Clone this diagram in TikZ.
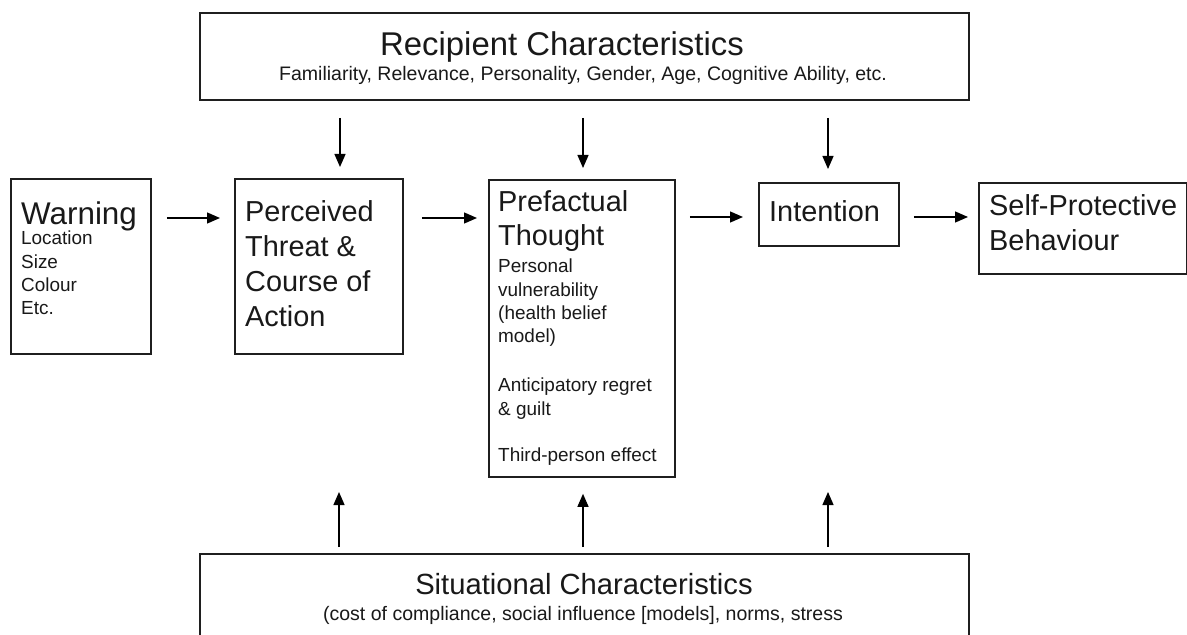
\documentclass[tikz,border=0pt]{standalone}
\usepackage{fontspec}
\setmainfont{Liberation Sans}
\usetikzlibrary{arrows.meta,calc}

\tikzset{
  box/.style={draw=black!88, line width=1.8bp, inner sep=0pt, anchor=north west},
  flow/.style={draw=black, line width=1.3bp, -{Triangle[length=13bp,width=11bp]}},
  txt/.style={inner sep=0pt, anchor=base west, text=black!90},
  ctxt/.style={inner sep=0pt, anchor=base, text=black!90},
  big/.style={font=\fontsize{29}{35}\selectfont},
  bigger/.style={font=\fontsize{31.5}{37}\selectfont},
  small/.style={font=\fontsize{19}{23}\selectfont},
  headA/.style={font=\fontsize{33}{38}\selectfont},
  headB/.style={font=\fontsize{29.3}{35}\selectfont},
  sub/.style={font=\fontsize{19.6}{23}\selectfont},
}

\begin{document}
\begin{tikzpicture}[x=1bp,y=-1bp]
\useasboundingbox (0,0) rectangle (1187,635);
\fill[white] (0,0) rectangle (1187,635);
\clip (0,0) rectangle (1187,635);

% ---- boxes
\node[box, minimum width=769bp, minimum height=87bp]  (recip)  at (199,12)  {};
\node[box, minimum width=140bp, minimum height=175bp] (warn)   at (10,178)  {};
\node[box, minimum width=168bp, minimum height=175bp] (perc)   at (234,178) {};
\node[box, minimum width=186bp, minimum height=297bp] (pref)   at (488,179) {};
\node[box, minimum width=140bp, minimum height=63bp]  (intent) at (758,182) {};
\node[box, minimum width=208bp, minimum height=91bp]  (self)   at (978,182) {};
\node[box, minimum width=769bp, minimum height=120bp] (situ)   at (199,553) {};

% ---- recipient characteristics
\node[ctxt, headA] (recipT) at (562,56) {Recipient Characteristics};
\node[ctxt, sub]   (recipS) at (583,81) {Familiarity, Relevance, Personality, Gender, Age, Cognitive Ability, etc.};

% ---- warning
\node[txt, bigger] (warnT) at (21,225) {Warning};
\node[txt, small] (w1) at (21,245)   {Location};
\node[txt, small] (w2) at (21,268.3) {Size};
\node[txt, small] (w3) at (21,291.7) {Colour};
\node[txt, small] (w4) at (21,315)   {Etc.};

% ---- perceived threat
\node[txt, big] (p1) at (245,222) {Perceived};
\node[txt, big] (p2) at (245,257) {Threat \&};
\node[txt, big] (p3) at (245,291.5) {Course of};
\node[txt, big] (p4) at (245,326.5) {Action};

% ---- prefactual thought
\node[txt, big] (f1) at (498,211.5) {Prefactual};
\node[txt, big] (f2) at (498,246)   {Thought};
\node[txt, small] (f3) at (498,273)   {Personal};
\node[txt, small] (f4) at (498,296.5) {vulnerability};
\node[txt, small] (f5) at (498,320)   {(health belief};
\node[txt, small] (f6) at (498,343)   {model)};
\node[txt, small] (f7) at (498,391.5) {Anticipatory regret};
\node[txt, small] (f8) at (498,415)   {\& guilt};
\node[txt, small] (f9) at (498,461.5) {Third-person effect};

% ---- intention and behaviour
\node[txt, big] (iT) at (769,221.5) {Intention};
\node[txt, big] (s1) at (989,216) {Self-Protective};
\node[txt, big] (s2) at (989,251) {Behaviour};

% ---- situational characteristics
\node[ctxt, headB] (situT) at (584,594) {Situational Characteristics};
\node[ctxt, sub]   (situS) at (583,620) {(cost of compliance, social influence [models], norms, stress};

% ---- main flow
\draw[flow] ($(warn.north east)+(15,40)$)   -- ($(perc.north west)+(-14,40)$);
\draw[flow] ($(perc.north east)+(18,40)$)   -- ($(pref.north west)+(-11,39)$);
\draw[flow] ($(pref.north east)+(14,38)$)   -- ($(intent.north west)+(-15,35)$);
\draw[flow] ($(intent.north east)+(14,35)$) -- ($(self.north west)+(-10,35)$);

% ---- recipient influences
\draw[flow] (recip.south -| 340,0) ++(0,17) -- ($(perc.north west)+(106,-11)$);
\draw[flow] (recip.south -| 583,0) ++(0,17) -- ($(pref.north west)+(95,-11)$);
\draw[flow] (recip.south -| 828,0) ++(0,17) -- ($(intent.north west)+(70,-13)$);

% ---- situational influences
\draw[flow] (situ.north -| 339,0) ++(0,-6) -- (339,492);
\draw[flow] (situ.north -| 583,0) ++(0,-6) -- ($(pref.south west)+(95,16)$);
\draw[flow] (situ.north -| 828,0) ++(0,-6) -- (828,492);
\end{tikzpicture}
\end{document}
